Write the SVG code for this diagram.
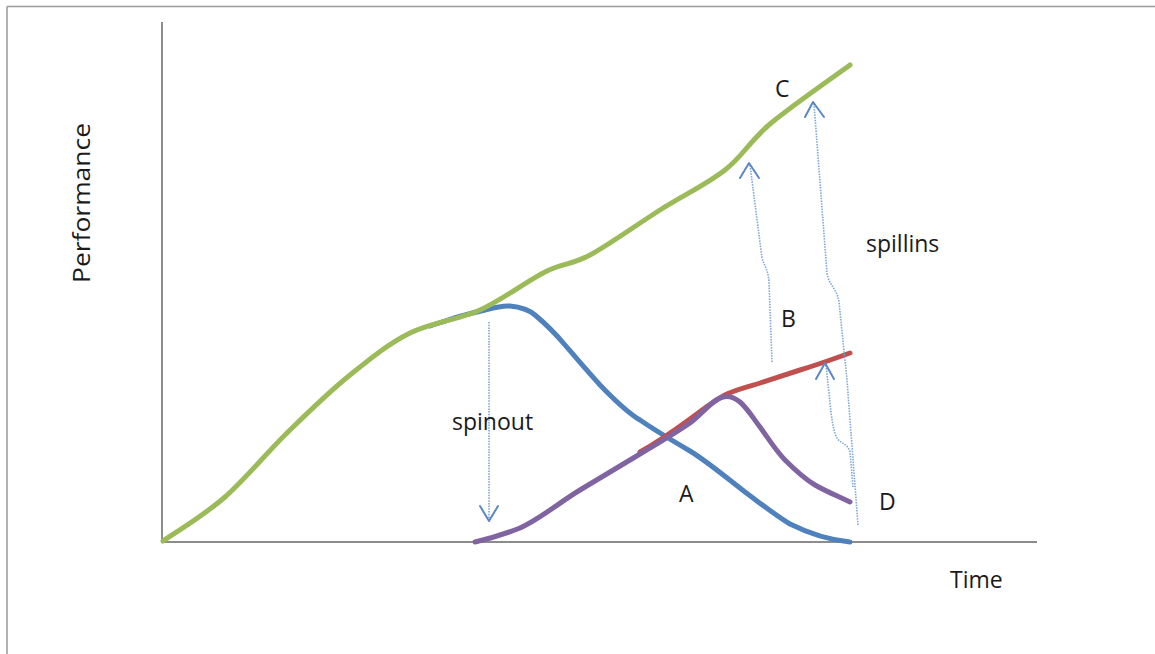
<svg xmlns="http://www.w3.org/2000/svg" width="1155" height="654" viewBox="0 0 1155 654">
<style>
.lbl{font-family:"Open Sans","Liberation Sans",sans-serif;font-size:23px;fill:#1a1a1a}
.axis{stroke:#8c8c8c;stroke-width:2;fill:none}
.curve{fill:none;stroke-width:5;stroke-linecap:round;stroke-linejoin:round}
.dot{fill:none;stroke:#7fa6d6;stroke-width:1.6;stroke-dasharray:1.5 1.2}
.head{fill:none;stroke:#5b87c5;stroke-width:2;stroke-linecap:round;stroke-linejoin:round}
</style>
<rect width="1155" height="654" fill="#ffffff"/>
<g id="frame">
<path d="M7,6.5 H1155 M7,6.5 V654" stroke="#999" stroke-width="1.5" fill="none"/>
</g>
<g id="axes">
<path class="axis" d="M162,22 V542 H1037"/>
</g>
<g id="curve-A-blue">
<path class="curve" stroke="#4f81bd" d="M430,326 C448,320 462,315 477,312 C490,309 500,305 510,306 C520,307 528,309 535,315 C547,325 555,333 565,345 C577,359 588,372 600,385 C613,398 625,411 640,420 C656,431 673,441 690,451 C708,462 728,479 745,492 C760,503 775,515 790,524 C810,534 830,540 850,542"/>
</g>
<g id="curve-D-red">
<path class="curve" stroke="#c0504d" d="M640,452 C658,442 675,430 690,419 C705,408 715,400 725,395 C737,389 748,387 760,383 C775,378 788,374 800,370 C820,364 836,358 850,353"/>
</g>
<g id="curve-purple">
<path class="curve" stroke="#8064a2" d="M475,542 C492,538 505,534 520,528 C540,519 560,502 580,490 C600,478 620,466 640,454 C657,444 674,434 690,423 C702,414 713,399 723,397 C730,395 735,398 740,402 C748,409 753,418 760,427 C768,438 776,451 785,460 C795,470 805,479 815,485 C827,492 840,497 850,502"/>
</g>
<g id="curve-C-green">
<path class="curve" stroke="#9bbb59" d="M163,541 C173,534 204,515.5 225,497 C246,478.5 269,450 290,430 C310.8,409.7 330,391 350,375 C370,358.8 388.3,343.8 410,333 C431.7,322.2 457.5,320.2 480,310 C502.5,299.8 526.7,281.2 545,272 C563.3,262.8 570.8,265.3 590,255 C609.2,244.7 637.5,224.2 660,210 C682.5,195.8 706.7,184.3 725,170 C743.3,155.7 749.2,141.5 770,124 C790.8,106.5 836.7,74.8 850,65"/>
</g>
<g id="connectors">
<g id="spinout-arrow">
<path class="dot" d="M489,322 V519"/>
<path class="head" d="M480,506 L489,521 L498,506"/>
</g>
<g id="B-arrow">
<path class="dot" d="M772,362 L769,282 C768,268 764,266 762,258 L750,165"/>
<path class="head" d="M740,178 L749,163 L759,178"/>
</g>
<g id="spillins-arrow">
<path class="dot" d="M858,525 L847,380 L839,302 C837,288 829,286 827,273 L814,104"/>
<path class="head" d="M805,117 L813,102 L824,117"/>
</g>
<g id="D-arrow">
<path class="dot" d="M853,487 L850,452 C847,442 839,444 836,436 C833,428 832,420 831,412 L826,365"/>
<path class="head" d="M816,379 L825,363 L834,379"/>
</g>
</g>
<g id="labels">
<text class="lbl" x="775" y="97">C</text>
<text class="lbl" x="781" y="327">B</text>
<text class="lbl" x="866" y="252">spillins</text>
<text class="lbl" x="452" y="430">spinout</text>
<text class="lbl" x="679" y="502">A</text>
<text class="lbl" x="879" y="510">D</text>
<text class="lbl" x="950" y="588">Time</text>
<text class="lbl" transform="translate(90,283) rotate(-90)" textLength="160" lengthAdjust="spacingAndGlyphs" style="font-size:24px">Performance</text>
</g>
</svg>
